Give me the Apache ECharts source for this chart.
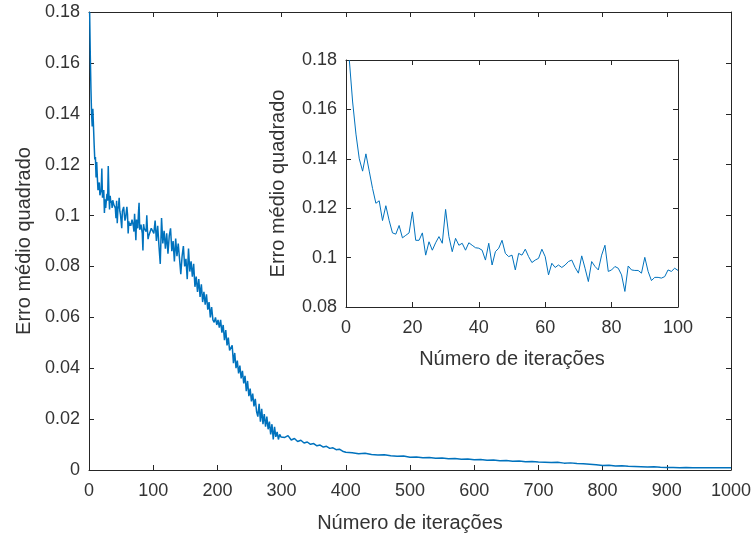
<!DOCTYPE html>
<html>
<head>
<meta charset="utf-8">
<script src="https://cdn.jsdelivr.net/npm/echarts@6/dist/echarts.min.js"></script>
<style>
html,body{margin:0;padding:0;background:#fff;}
#c{width:755px;height:538px;}
</style>
</head>
<body>
<div id="c"></div>
<script>
// ---- Data ----
// Mean squared error for iterations 1..100 (shown in the inset and the main plot)
const firstMSE = [
  0.180, 0.163, 0.150, 0.140, 0.135, 0.142, 0.135, 0.128, 0.122, 0.123,
  0.115, 0.121, 0.115, 0.110, 0.1095, 0.113, 0.108, 0.109, 0.110, 0.1185,
  0.107, 0.107, 0.110, 0.101, 0.1064, 0.103, 0.106, 0.1085, 0.1058, 0.1195,
  0.1085, 0.1024, 0.1078, 0.105, 0.1058, 0.103, 0.106, 0.105, 0.104, 0.1038,
  0.103, 0.099, 0.1058, 0.097, 0.1024, 0.1038, 0.107, 0.1017, 0.1004, 0.101,
  0.095, 0.1017, 0.101, 0.1034, 0.1004, 0.098, 0.099, 0.0997, 0.1034, 0.1004,
  0.093, 0.0977, 0.096, 0.097, 0.096, 0.097, 0.0984, 0.099, 0.096, 0.0937,
  0.1007, 0.0957, 0.0903, 0.0984, 0.0964, 0.095, 0.101, 0.105, 0.0944, 0.095,
  0.0964, 0.0957, 0.093, 0.0863, 0.0966, 0.095, 0.0948, 0.0948, 0.0937, 0.1001,
  0.0944, 0.0907, 0.092, 0.092, 0.0917, 0.0923, 0.095, 0.0944, 0.0957, 0.0948
];
// iterations 101..299 (every 2nd iteration)
const midMSE = [
  0.093, 0.098, 0.090, 0.096, 0.088, 0.081, 0.099, 0.089, 0.094, 0.087,
  0.093, 0.085, 0.092, 0.095, 0.086, 0.090, 0.082, 0.091, 0.084, 0.089,
  0.083, 0.077, 0.084, 0.088, 0.080, 0.083, 0.075, 0.087, 0.078, 0.082,
  0.076, 0.081, 0.072, 0.076, 0.070, 0.075, 0.068, 0.073, 0.066, 0.070,
  0.065, 0.069, 0.063, 0.066, 0.060, 0.064, 0.059, 0.058, 0.060, 0.057,
  0.059, 0.056, 0.059, 0.054, 0.057, 0.051, 0.055, 0.049, 0.052, 0.047,
  0.047, 0.049, 0.042, 0.046, 0.040, 0.043, 0.038, 0.041, 0.036, 0.039,
  0.034, 0.037, 0.031, 0.035, 0.029, 0.032, 0.027, 0.030, 0.025, 0.028,
  0.023, 0.021, 0.026, 0.019, 0.024, 0.018, 0.022, 0.017, 0.021, 0.016,
  0.019, 0.014, 0.018, 0.012, 0.017, 0.013, 0.015, 0.012, 0.014, 0.013
];
// iterations 305..400 (every 5th iteration)
const lateMSE = [
  0.0128, 0.0135, 0.0118, 0.0124, 0.0112, 0.0117, 0.0106, 0.0110, 0.0101, 0.0104,
  0.0095, 0.0098, 0.0090, 0.0093, 0.0085, 0.0087, 0.0080, 0.0082, 0.0074, 0.0070
];
// iterations 410..1000 (every 10th iteration)
const tailMSE = [
  0.0068, 0.0064, 0.0066, 0.0061, 0.0059, 0.0060, 0.0056, 0.0054, 0.0055, 0.0050,
  0.0051, 0.0048, 0.0049, 0.0046, 0.0047, 0.0044, 0.0045, 0.0042, 0.0043, 0.0040,
  0.0041, 0.0038, 0.0039, 0.0036, 0.0037, 0.0034, 0.0035, 0.0032, 0.0033, 0.0031,
  0.0030, 0.0029, 0.0030, 0.0027, 0.0028, 0.0026, 0.0025, 0.0023, 0.0021, 0.0018,
  0.0019, 0.0016, 0.0017, 0.0015, 0.0014, 0.0013, 0.0012, 0.0013, 0.0011, 0.0010,
  0.0010, 0.0009, 0.0010, 0.0009, 0.0009, 0.0009, 0.0009, 0.0009, 0.0009, 0.0009
];

const xTitle = 'Número de iterações';
const yTitle = 'Erro médio quadrado';

// iteration indices for each block
function iters(start, step, n){ const a=[]; for(let i=0;i<n;i++) a.push(start+i*step); return a; }
const firstIter = iters(1, 1, firstMSE.length);
const midIter = iters(101, 2, midMSE.length);
const lateIter = iters(305, 5, lateMSE.length);
const tailIter = iters(410, 10, tailMSE.length);

function pairs(xs, ys){ return xs.map((x,i)=>[x, ys[i]]); }
const mainData = [].concat(
  pairs(firstIter, firstMSE), pairs(midIter, midMSE),
  pairs(lateIter, lateMSE), pairs(tailIter, tailMSE));
const insetData = pairs(firstIter, firstMSE);

const FONT = 'Liberation Sans, Arial, sans-serif';
const TXT = '#333333';
const AX = '#262626';
const LINE = '#0072BD';

function xAx(grid, min, max, interval, pos, withLabels){
  return {
    type:'value', gridIndex:grid, min:min, max:max, interval:interval, position:pos,
    name: withLabels ? xTitle : '', nameLocation:'middle', nameGap:43,
    nameTextStyle:{fontFamily:FONT, fontSize:20, color:TXT},
    axisLine:{show:true, onZero:false, lineStyle:{color:AX, width:1}},
    axisTick:{show:true, inside:true, length:5, lineStyle:{color:AX}},
    axisLabel:{show:withLabels, fontFamily:FONT, fontSize:18, color:TXT, margin:12,
               formatter:function(v){ return String(v); }},
    splitLine:{show:false}
  };
}
function yAx(grid, min, max, interval, pos, withLabels, gap){
  return {
    type:'value', gridIndex:grid, min:min, max:max, interval:interval, position:pos,
    name: withLabels ? yTitle : '', nameLocation:'middle', nameGap:gap, nameRotate:90,
    nameTextStyle:{fontFamily:FONT, fontSize:20, color:TXT},
    axisLine:{show:true, onZero:false, lineStyle:{color:AX, width:1}},
    axisTick:{show:true, inside:true, length:5, lineStyle:{color:AX}},
    axisLabel:{show:withLabels, fontFamily:FONT, fontSize:18, color:TXT, margin:9},
    splitLine:{show:false}
  };
}

const chart = echarts.init(document.getElementById('c'), null, {renderer:'canvas'});
const xs = [
  xAx(0, 0, 1000, 100, 'bottom', true),
  xAx(0, 0, 1000, 100, 'top', false),
  xAx(1, 0, 100, 20, 'bottom', true),
  xAx(1, 0, 100, 20, 'top', false)
];
xs[2].nameGap = 42;
const ys = [
  yAx(0, 0, 0.18, 0.02, 'left', true, 55),
  yAx(0, 0, 0.18, 0.02, 'right', false, 0),
  yAx(1, 0.08, 0.18, 0.02, 'left', true, 58),
  yAx(1, 0.08, 0.18, 0.02, 'right', false, 0)
];
chart.setOption({
  animation:false,
  backgroundColor:'#fff',
  grid:[
    {left:89, right:24, top:12, bottom:68, containLabel:false},
    {left:346, right:77, top:60, bottom:231, containLabel:false, show:true, backgroundColor:'#fff', borderWidth:0}
  ],
  xAxis: xs,
  yAxis: ys,
  series:[
    {type:'line', xAxisIndex:0, yAxisIndex:0, data:mainData, showSymbol:false, symbol:'none',
     lineStyle:{color:LINE, width:1.5}, z:2},
    {type:'line', xAxisIndex:2, yAxisIndex:2, data:insetData, showSymbol:false, symbol:'none',
     lineStyle:{color:LINE, width:1}, z:3}
  ]
});
</script>
</body>
</html>
